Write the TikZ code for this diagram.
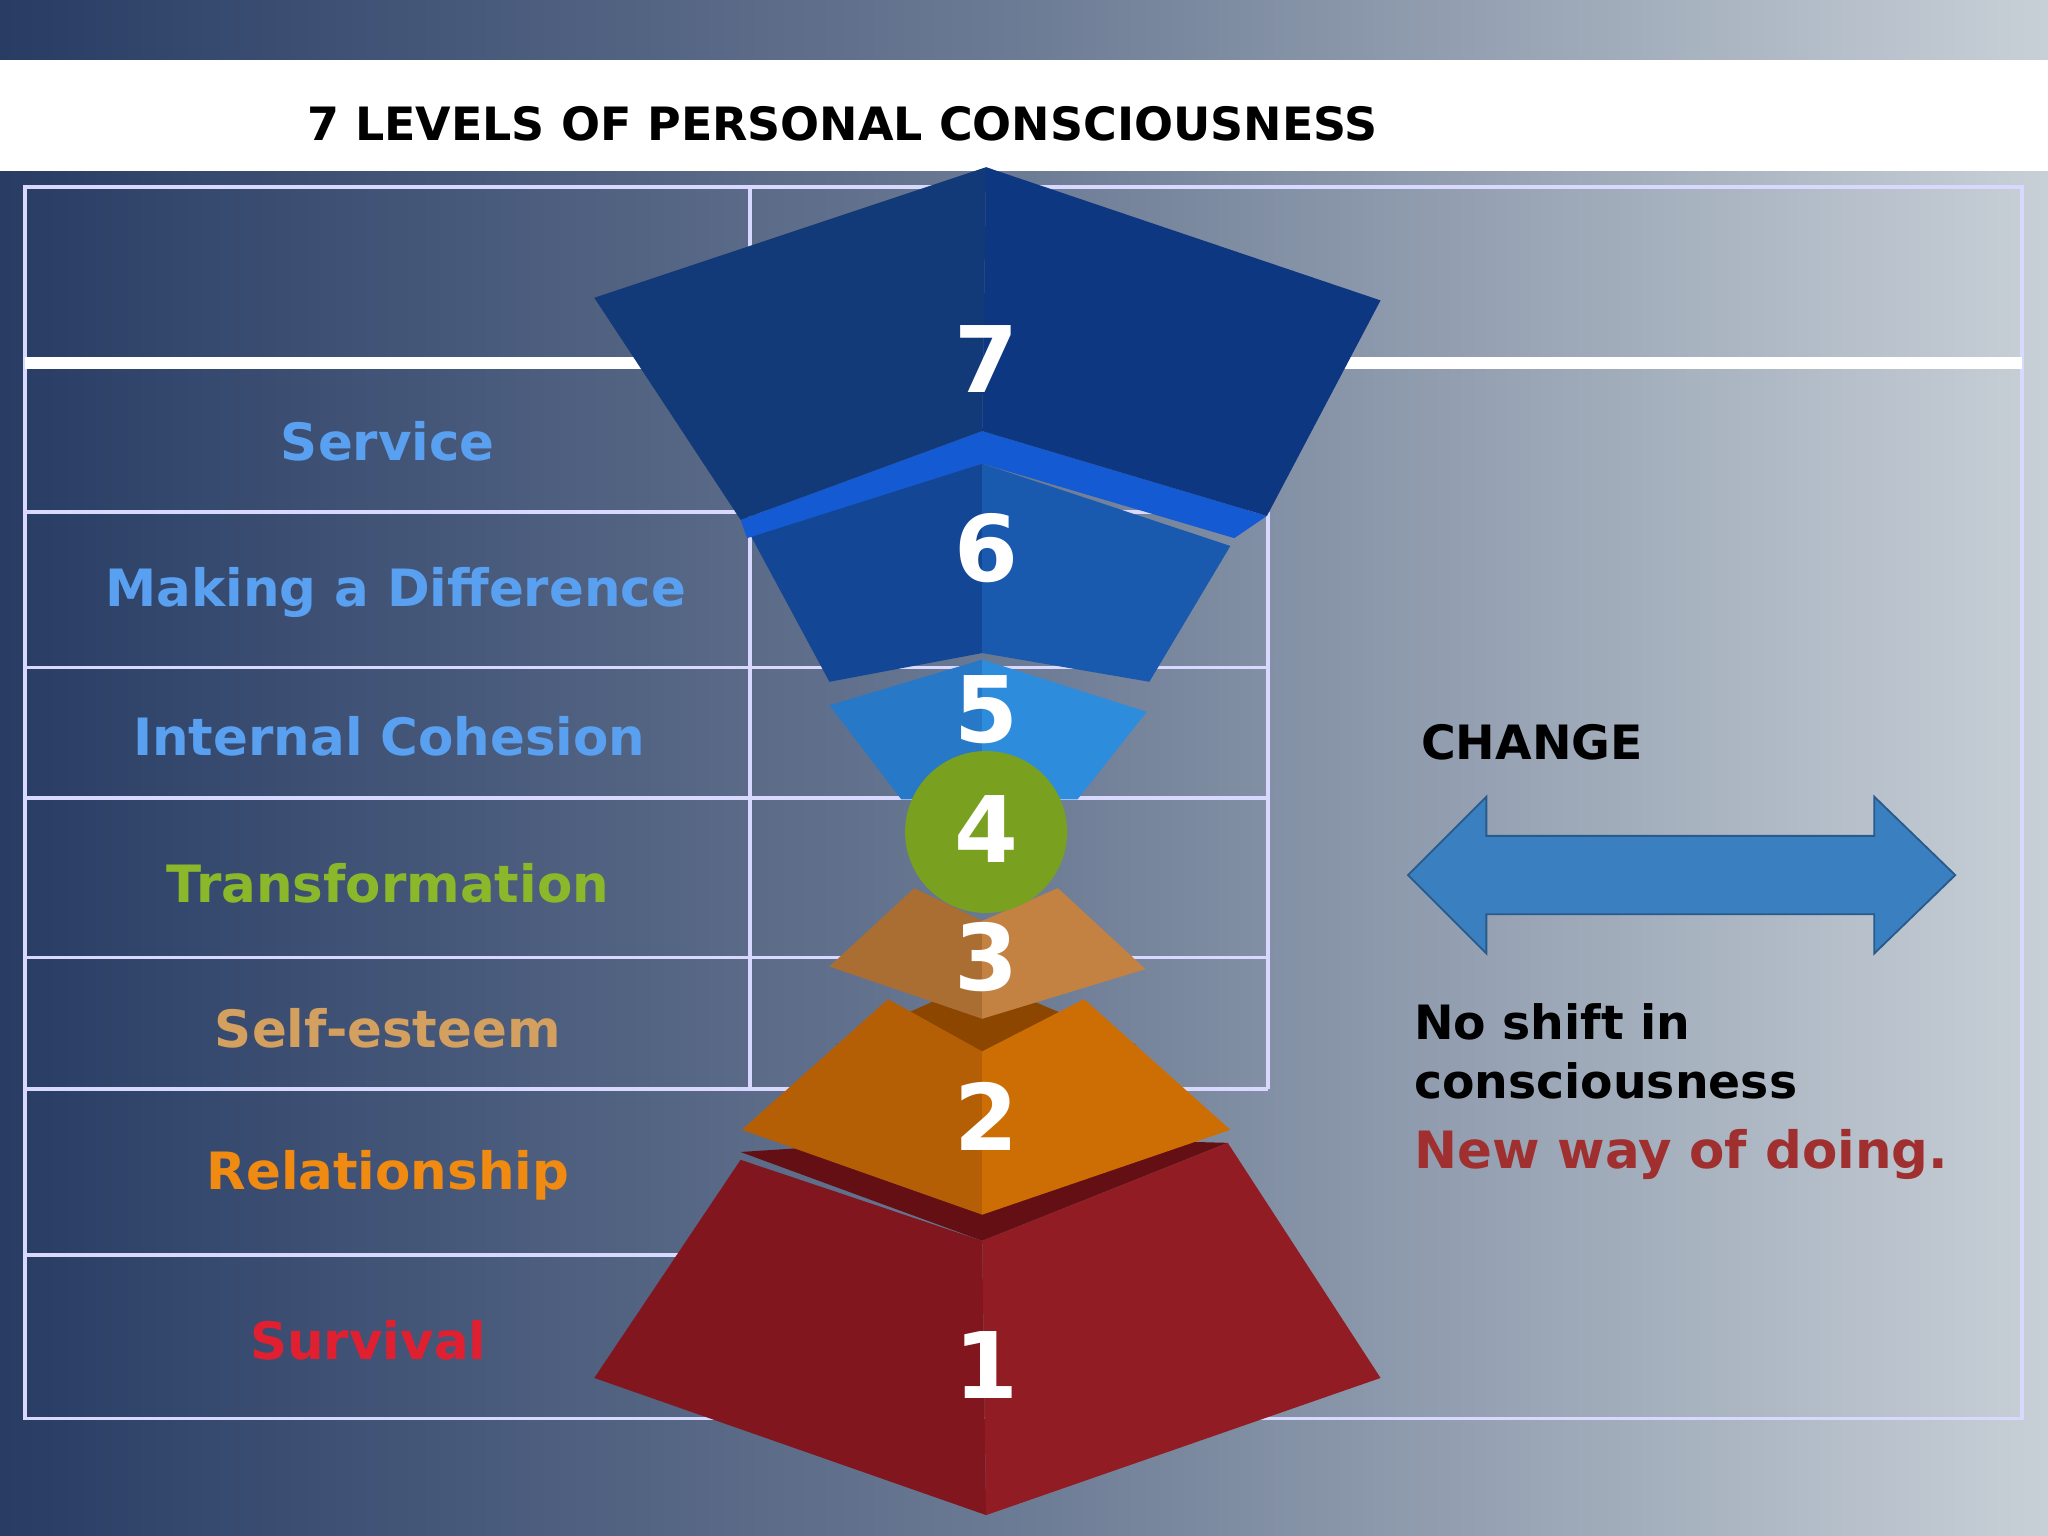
\documentclass[tikz,border=0pt]{standalone}
\usepackage{fontspec}
\setmainfont{DejaVu Sans}
\definecolor{bgl}{RGB}{40,60,100}
\definecolor{bgm}{RGB}{110,125,150}
\definecolor{bgr}{RGB}{200,208,215}
\definecolor{cblue}{RGB}{90,160,240}
\definecolor{cgreen}{RGB}{138,184,42}
\definecolor{ctan}{RGB}{212,160,96}
\definecolor{corange}{RGB}{240,138,16}
\definecolor{cred}{RGB}{224,32,48}
\definecolor{ra}{RGB}{100,15,20}
\definecolor{rb}{RGB}{130,22,30}
\definecolor{rc}{RGB}{145,28,35}
\definecolor{oa}{RGB}{140,70,0}
\definecolor{ob}{RGB}{180,95,5}
\definecolor{oc}{RGB}{205,110,5}
\definecolor{ta}{RGB}{170,110,50}
\definecolor{tb}{RGB}{195,130,65}
\definecolor{fa}{RGB}{40,120,200}
\definecolor{fb}{RGB}{45,140,220}
\definecolor{sa}{RGB}{20,70,150}
\definecolor{sb}{RGB}{25,90,175}
\definecolor{va}{RGB}{20,90,210}
\definecolor{vb}{RGB}{18,58,120}
\definecolor{vc}{RGB}{14,55,130}
\definecolor{cgr}{RGB}{122,160,32}
\definecolor{arf}{RGB}{58,128,192}
\definecolor{ard}{RGB}{40,90,140}
\definecolor{newc}{RGB}{160,48,48}
\begin{document}
\begin{tikzpicture}[x=0.01cm,y=-0.01cm,
  lbl/.style={font=\fontsize{11.2}{14}\selectfont\bfseries},
  num/.style={text=white,font=\fontsize{20}{24}\selectfont\bfseries},
  grid/.style={draw=white!85!blue,line width=0.8pt}]
\useasboundingbox (0,0) rectangle (1568,1176);
\shade[left color=bgl, right color=bgm] (0,0) rectangle (800,1176);
\shade[left color=bgm, right color=bgr] (800,0) rectangle (1568,1176);
\fill[white] (0,46) rectangle (1568,131);
\node (title) at (645,95) {\fontsize{10}{12}\selectfont\bfseries 7 LEVELS OF PERSONAL CONSCIOUSNESS};
% table
\draw[grid] (19,143) rectangle (1548,1086);
\draw[grid] (574,143) -- (574,834);
\draw[grid] (971,392) -- (971,834);
\draw[white,line width=2.5pt] (19,278) -- (1548,278);
\foreach \y in {392,511,611,733,834} \draw[grid] (19,\y) -- (971,\y);
\draw[grid] (19,961) -- (574,961);
\node[lbl,text=cblue] (l7) at (297,338) {Service};
\node[lbl,text=cblue] (l6) at (303,454) {Making a Difference};
\node[lbl,text=cblue] (l5) at (298,564) {Internal Cohesion};
\node[lbl,text=cgreen] (l4) at (297,676) {Transformation};
\node[lbl,text=ctan] (l3) at (297,787) {Self-esteem};
\node[lbl,text=corange] (l2) at (297,900) {Relationship};
\node[lbl,text=cred] (l1) at (282,1026) {Survival};
% level 1
\fill[ra] (567,882) -- (752,870) -- (940,875) -- (752,950) -- cycle;
\fill[rb] (567,888) -- (752,950) -- (755,1160) -- (455,1055) -- cycle;
\fill[rc] (752,950) -- (940,875) -- (1057,1055) -- (755,1160) -- cycle;
% level 2
\fill[oa] (640,800) -- (752,750) -- (870,800) -- (752,820) -- cycle;
\fill[ob] (568,865) -- (680,765) -- (752,805) -- (752,930) -- cycle;
\fill[oc] (752,805) -- (830,765) -- (942,865) -- (752,930) -- cycle;
% level 3
\fill[ta] (635,740) -- (700,680) -- (752,705) -- (752,780) -- cycle;
\fill[tb] (752,705) -- (810,680) -- (877,742) -- (752,780) -- cycle;
% level 5
\fill[fa] (635,540) -- (752,505) -- (752,612) -- (690,612) -- cycle;
\fill[fb] (752,505) -- (878,545) -- (825,612) -- (752,612) -- cycle;
% level 6
\fill[sa] (572,405) -- (752,355) -- (752,500) -- (635,522) -- cycle;
\fill[sb] (752,355) -- (942,418) -- (880,522) -- (752,500) -- cycle;
% level 7
\fill[va] (567,398) -- (752,330) -- (970,395) -- (945,412) -- (752,355) -- (572,412) -- cycle;
\fill[vb] (455,228) -- (755,128) -- (752,330) -- (567,398) -- cycle;
\fill[vc] (755,128) -- (1057,230) -- (970,395) -- (752,330) -- cycle;
% circle 4
\fill[cgr] (755,637) circle (62);
\node[num] (n7) at (755,275) {7};
\node[num] (n6) at (755,420) {6};
\node[num] (n5) at (755,543) {5};
\node[num] (n4) at (755,635) {4};
\node[num] (n3) at (755,733) {3};
\node[num] (n2) at (755,855) {2};
\node[num] (n1) at (755,1045) {1};
% right side
\node[font=\fontsize{10.3}{12}\selectfont\bfseries] (change) at (1173,568) {CHANGE};
\fill[arf, draw=ard] (1078,670) -- (1138,610) -- (1138,640) -- (1435,640) -- (1435,610) -- (1497,670)
  -- (1435,730) -- (1435,700) -- (1138,700) -- (1138,730) -- cycle;
\node[anchor=north west,align=left,font=\fontsize{10.3}{12.8}\selectfont\bfseries,inner sep=0pt] (shift) at (1082,768) {No shift in\\consciousness};
\node[anchor=north west,font=\fontsize{11.2}{14}\selectfont\bfseries,text=newc,inner sep=0pt] (new) at (1082,864) {New way of doing.};
\end{tikzpicture}
\end{document}
